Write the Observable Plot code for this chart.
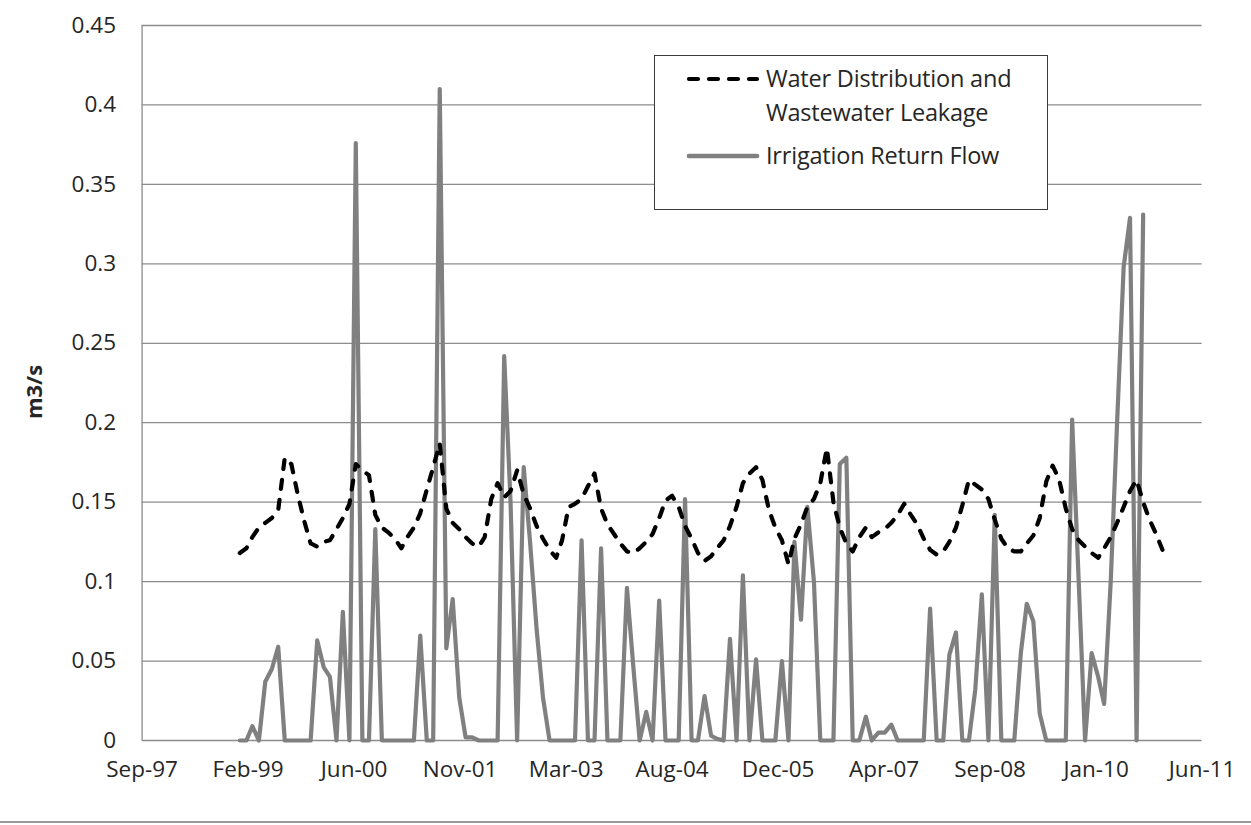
<!DOCTYPE html>
<html>
<head>
<meta charset="utf-8">
<script src="https://cdn.jsdelivr.net/npm/d3@7"></script>
<script src="https://cdn.jsdelivr.net/npm/@observablehq/plot@0.6"></script>
<style>
  body { margin: 0; background: #fff; font-family: "Open Sans", sans-serif; }
  #wrap { position: relative; width: 1251px; height: 825px; overflow: hidden; background: #fff; }
  #chart { position: absolute; left: 0; top: 0; }
  #ylabel { position: absolute; left: 33px; top: 392px; transform: translate(-50%, -50%) rotate(-90deg);
            font-weight: bold; font-size: 22px; color: #262626; white-space: nowrap; }
  #legend { position: absolute; left: 654px; top: 55px; width: 394px; height: 155px; box-sizing: border-box;
            border: 1.6px solid #3a3a3a; background: #fff; }
  .lg-sample { position: absolute; left: 31px; width: 74px; height: 8px; }
  .lg-text { position: absolute; left: 111px; font-size: 23.5px; line-height: 34px; color: #262626; white-space: nowrap; letter-spacing: -0.2px; }
  #border { position: absolute; left: 0; top: 821px; width: 1251px; height: 2px; background: #9a9a9a; }
</style>
</head>
<body>
<div id="wrap">
  <div id="chart"></div>
  <div id="ylabel">m3/s</div>
  <div id="legend"></div>
  <div id="border"></div>
</div>
<script>
// ---- Data (monthly, Jan 1999 onward) ----
const seriesNames = ["Water Distribution and Wastewater Leakage", "Irrigation Return Flow"];
const startMonth = "1999-01-01";

const leakage = [
  0.118, 0.121, 0.128, 0.134, 0.137, 0.140, 0.145, 0.178, 0.174, 0.155, 0.138, 0.124,
  0.122, 0.125, 0.126, 0.133, 0.140, 0.149, 0.174, 0.170, 0.167, 0.142, 0.134, 0.131,
  0.127, 0.121, 0.128, 0.134, 0.143, 0.158, 0.172, 0.187, 0.146, 0.137, 0.133, 0.128,
  0.124, 0.122, 0.128, 0.152, 0.162, 0.153, 0.157, 0.170, 0.155, 0.146, 0.135, 0.127,
  0.120, 0.115, 0.126, 0.147, 0.149, 0.152, 0.160, 0.168, 0.146, 0.136, 0.130, 0.124,
  0.119, 0.118, 0.121, 0.125, 0.130, 0.140, 0.151, 0.154, 0.147, 0.135, 0.127, 0.118,
  0.113, 0.116, 0.121, 0.126, 0.135, 0.147, 0.162, 0.168, 0.172, 0.164, 0.145, 0.134,
  0.126, 0.111, 0.127, 0.136, 0.147, 0.152, 0.162, 0.184, 0.150, 0.134, 0.124, 0.119,
  0.128, 0.134, 0.128, 0.131, 0.133, 0.137, 0.142, 0.149, 0.142, 0.136, 0.127, 0.120,
  0.117, 0.119, 0.125, 0.134, 0.148, 0.164, 0.161, 0.158, 0.152, 0.139, 0.127, 0.121,
  0.119, 0.119, 0.124, 0.129, 0.140, 0.163, 0.173, 0.164, 0.146, 0.133, 0.126, 0.122,
  0.118, 0.115, 0.121, 0.128, 0.137, 0.147, 0.157, 0.164, 0.150, 0.139, 0.130, 0.120
];

const irrigation = [
  0, 0, 0.009, 0, 0.037, 0.045, 0.059, 0, 0, 0, 0, 0,
  0.063, 0.046, 0.040, 0, 0.081, 0, 0.376, 0, 0, 0.133, 0, 0,
  0, 0, 0, 0, 0.066, 0, 0, 0.410, 0.058, 0.089, 0.027, 0.002,
  0.002, 0, 0, 0, 0, 0.242, 0.150, 0, 0.172, 0.125, 0.070, 0.027,
  0, 0, 0, 0, 0, 0.126, 0, 0, 0.121, 0, 0, 0,
  0.096, 0.045, 0, 0.018, 0, 0.088, 0, 0, 0, 0.152, 0, 0,
  0.028, 0.003, 0.001, 0, 0.064, 0, 0.104, 0, 0.051, 0, 0, 0,
  0.050, 0, 0.125, 0.076, 0.147, 0.100, 0, 0, 0, 0.174, 0.178, 0,
  0, 0.015, 0, 0.005, 0.005, 0.010, 0, 0, 0, 0, 0, 0.083,
  0, 0, 0.054, 0.068, 0, 0, 0.032, 0.092, 0, 0.142, 0, 0,
  0, 0.055, 0.086, 0.075, 0.017, 0, 0, 0, 0, 0.202, 0.100, 0,
  0.055, 0.040, 0.023, 0.100, 0.200, 0.298, 0.329, 0, 0.331
];

const xTickLabels = ["1997-09-27", "1999-02-09", "2000-06-23", "2001-11-05", "2003-03-20", "2004-08-01",
                     "2005-12-14", "2007-04-28", "2008-09-09", "2010-01-22", "2011-06-06"];
const yTicks = [0, 0.05, 0.1, 0.15, 0.2, 0.25, 0.3, 0.35, 0.4, 0.45];

// ---- Build ----
const start = new Date(startMonth + "T00:00:00Z");
const months = d3.utcMonth.range(start, d3.utcMonth.offset(start, leakage.length));
const leakData = leakage.map((v, i) => ({date: months[i], value: v}));
const irrData = irrigation.map((v, i) => ({date: months[i], value: v}));
const xTicks = xTickLabels.map(s => new Date(s + "T00:00:00Z"));
const xDomain = [xTicks[0], xTicks[xTicks.length - 1]];

const chart = Plot.plot({
  width: 1251,
  height: 825,
  marginLeft: 141.6,
  marginRight: 49.4,
  marginTop: 25,
  marginBottom: 85,
  style: {fontFamily: '"Open Sans", sans-serif', fontSize: "22.5px", color: "#262626", background: "transparent", overflow: "visible"},
  x: {type: "utc", domain: xDomain, label: null},
  y: {domain: [0, 0.45], label: null},
  marks: [
    Plot.ruleY(yTicks, {stroke: "#8c8c8c", strokeWidth: 1.3}),
    Plot.ruleX([xDomain[0]], {stroke: "#8c8c8c", strokeWidth: 1.3}),
    Plot.axisX({ticks: xTicks, tickFormat: d3.utcFormat("%b-%y"), tickSize: 0, tickPadding: 21, fontSize: 22.5, fill: "#262626", label: null}),
    Plot.axisY({ticks: yTicks, tickFormat: d => String(+d.toFixed(2)), tickSize: 0, tickPadding: 26, fontSize: 22.5, fill: "#262626", label: null}),
    Plot.lineY(irrData, {x: "date", y: "value", stroke: "#808080", strokeWidth: 4.2, strokeLinejoin: "round", strokeLinecap: "round"}),
    Plot.lineY(leakData, {x: "date", y: "value", stroke: "#000000", strokeWidth: 4.2, strokeDasharray: "9,11", strokeLinecap: "round", strokeLinejoin: "round"})
  ]
});
document.getElementById("chart").appendChild(chart);

// ---- Legend ----
const legend = document.getElementById("legend");
legend.innerHTML = `
  <svg class="lg-sample" style="top:19px" viewBox="0 0 74 8"><line x1="3" y1="4" x2="71" y2="4" stroke="#000" stroke-width="4.2" stroke-dasharray="9,11" stroke-linecap="round"/></svg>
  <div class="lg-text" style="top:5px">Water Distribution and<br>Wastewater Leakage</div>
  <svg class="lg-sample" style="top:96px" viewBox="0 0 74 8"><line x1="3" y1="4" x2="71" y2="4" stroke="#808080" stroke-width="4.6" stroke-linecap="round"/></svg>
  <div class="lg-text" style="top:82px">${seriesNames[1]}</div>
`;
</script>
</body>
</html>
